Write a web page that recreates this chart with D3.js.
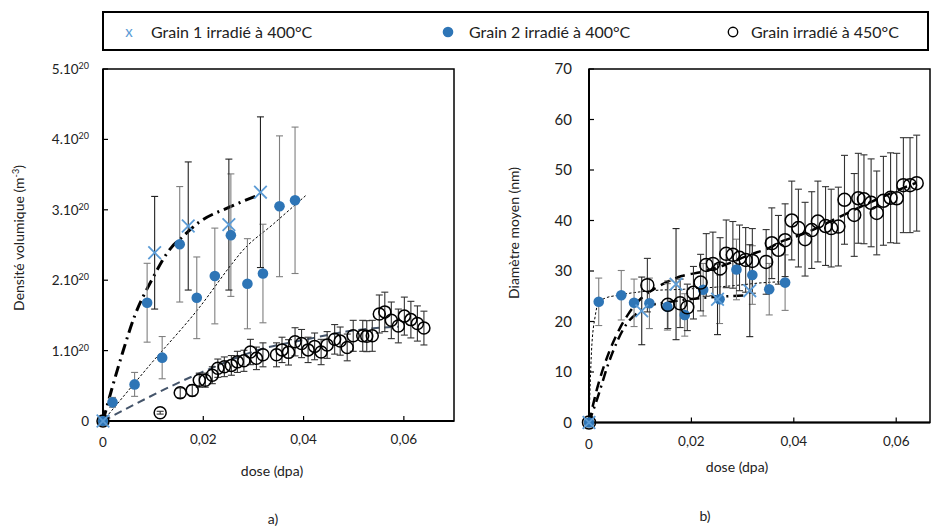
<!DOCTYPE html>
<html><head><meta charset="utf-8">
<script src="https://cdn.jsdelivr.net/npm/d3@7"></script>
<style>body{margin:0;background:#fff}svg{font-family:Lato,"Open Sans",sans-serif}</style>
</head><body>
<svg id="c" width="931" height="527"></svg>
<script>
// ---------- DATA ----------
const xTicks = [0, 0.02, 0.04, 0.06];
const xTickLabels = ["0", "0,02", "0,04", "0,06"];
const densTicks = [0, 1, 2, 3, 4, 5];            // x 1e20 m^-3
const diamTicks = [0, 10, 20, 30, 40, 50, 60, 70];
const legendLabels = ["Grain 1 irradié à 400°C", "Grain 2 irradié à 400°C", "Grain irradié à 450°C"];

// Grain 1 (x markers)
const doseG1 = [0, 0.0103, 0.0170, 0.0251, 0.0314];
const densG1 = [0, 2.39, 2.77, 2.79, 3.25];
const densG1Err = [0, 0.80, 0.91, 0.93, 1.07];
const diamG1 = [0, 22.1, 27.4, 24.4, 26.1];
const diamG1Err = [0, 6.7, 11.0, 7.0, 9.1];

// Grain 2 (filled dots)
const doseG2 = [0, 0.0019, 0.0063, 0.0088, 0.0118, 0.0153, 0.0187, 0.0223, 0.0255, 0.0288, 0.0319, 0.0352, 0.0383];
const densG2 = [0, 0.265, 0.52, 1.68, 0.90, 2.51, 1.75, 2.06, 2.64, 1.95, 2.095, 3.05, 3.135];
const densG2Err = [0, 0.07, 0.17, 0.56, 0.30, 0.82, 0.58, 0.68, 0.87, 0.64, 0.70, 1.00, 1.04];
const diamG2 = [0, 23.9, 25.2, 23.7, 23.6, 22.9, 21.3, 26.3, 24.4, 30.3, 29.2, 26.4, 27.7];
const diamG2Err = [0, 4.7, 4.9, 4.7, 5.0, 4.6, 4.2, 5.2, 4.8, 6.0, 5.8, 5.1, 5.5];

// Grain irradiated at 450°C (open circles)
const dose450 = [0, 0.0114, 0.0154, 0.0178, 0.0192, 0.0204, 0.0218, 0.0229, 0.0242, 0.0256, 0.0268, 0.0281, 0.0294, 0.0306, 0.0319, 0.0346, 0.0357, 0.0370, 0.0383, 0.0396, 0.0409, 0.0422, 0.0435, 0.0447, 0.0462, 0.0473, 0.0487, 0.0499, 0.0518, 0.0526, 0.0537, 0.0551, 0.0562, 0.0575, 0.0589, 0.0601, 0.0614, 0.0627, 0.0640];
const dens450 = [0, 0.118, 0.40, 0.435, 0.58, 0.58, 0.65, 0.75, 0.77, 0.79, 0.84, 0.855, 0.98, 0.89, 0.94, 0.94, 1.01, 0.975, 1.125, 1.10, 1.01, 1.06, 0.98, 1.08, 1.16, 1.135, 1.045, 1.21, 1.21, 1.205, 1.21, 1.52, 1.55, 1.43, 1.35, 1.49, 1.44, 1.385, 1.32];
const dens450Err = [0, 0.02, 0.07, 0.08, 0.1, 0.1, 0.12, 0.13, 0.14, 0.14, 0.15, 0.15, 0.18, 0.16, 0.17, 0.17, 0.18, 0.18, 0.2, 0.2, 0.18, 0.19, 0.18, 0.19, 0.21, 0.2, 0.19, 0.22, 0.22, 0.22, 0.22, 0.27, 0.28, 0.26, 0.24, 0.27, 0.26, 0.25, 0.24];
const diam450 = [0, 27.2, 23.3, 23.6, 22.8, 25.7, 27.7, 31.2, 31.4, 30.5, 33.4, 33.2, 32.6, 32.2, 32.0, 31.8, 35.5, 34.2, 36.1, 40.0, 38.5, 36.3, 38.1, 39.8, 38.9, 38.5, 38.8, 44.1, 41.1, 44.4, 44.2, 43.5, 41.5, 43.9, 44.5, 44.4, 47.0, 47.0, 47.4];
const diam450Err = [0, 5.3, 4.7, 4.8, 4.6, 5.2, 5.6, 6.2, 6.3, 6.1, 6.7, 6.6, 6.5, 6.4, 6.4, 6.4, 7.0, 6.8, 7.2, 7.8, 7.7, 7.3, 7.6, 8.0, 7.8, 7.7, 7.8, 8.8, 8.2, 8.9, 8.8, 8.7, 8.3, 8.8, 8.9, 8.9, 9.4, 9.4, 9.5];

// Trend lines
const fitDensG1Dose = [0, 0.0017, 0.0039, 0.0063, 0.0097, 0.0137, 0.0153, 0.0193, 0.0253, 0.0314];
const fitDensG1Val  = [0, 0.44, 0.97, 1.49, 2.0, 2.47, 2.58, 2.83, 3.04, 3.22];
const fitDensG2Dose = [0, 0.0094, 0.0193, 0.0259, 0.0276, 0.034, 0.0404];
const fitDensG2Val  = [0, 0.8, 1.62, 2.25, 2.4, 2.8, 3.2];
const fitDens450Dose = [0, 0.0193, 0.032, 0.04, 0.0485, 0.0545, 0.059];
const fitDens450Val  = [0, 0.68, 1.03, 1.15, 1.27, 1.32, 1.34];
const fitDiamG1Dose = [0, 0.0017, 0.0038, 0.0074, 0.0096, 0.0113, 0.014, 0.018, 0.0226, 0.027, 0.031];
const fitDiamG1Val  = [0, 5, 11.7, 19.6, 21.8, 23.0, 23.6, 24.2, 24.7, 25, 25.2];
const fitDiamG2Dose = [0, 0.0005, 0.0012, 0.0018, 0.0031, 0.0057, 0.0122, 0.0187, 0.0293, 0.033, 0.0382];
const fitDiamG2Val  = [0, 14.3, 21, 23.6, 24.6, 25.2, 26.1, 26.4, 27.2, 27.6, 27.9];
const fitDiam450Dose = [0, 0.0015, 0.0041, 0.006, 0.0077, 0.0096, 0.0125, 0.0148, 0.0181, 0.022, 0.026, 0.0314, 0.035, 0.038, 0.0415, 0.0483, 0.0545, 0.0613, 0.064];
const fitDiam450Val  = [0, 6.4, 14.4, 18.6, 21.5, 24, 26.3, 27.6, 29, 29.8, 31, 33.2, 34.5, 36, 37.2, 40.4, 43.4, 46.4, 47.5];

// ---------- DRAW ----------
const BLUE = "#2E75B6", LBLUE = "#5B9BD5";
const svg = d3.select("#c");

function zip(a, b, e) { return a.map((d, i) => ({x: d, y: b[i], e: e ? e[i] : 0})); }

function panel(o) {
  const x = d3.scaleLinear().domain(o.xDom).range(o.xRange);
  const y = d3.scaleLinear().domain(o.yDom).range(o.yRange);
  const g = svg.append("g");
  const [x0, x1] = o.xRange, [y0, y1] = o.yRange;

  // frame
  g.append("rect").attr("x", x0).attr("y", y1).attr("width", x1 - x0).attr("height", y0 - y1)
    .attr("fill", "none").attr("stroke", "#000").attr("stroke-width", 1.5);
  g.append("line").attr("x1", x0).attr("x2", x0).attr("y1", y1).attr("y2", y0).attr("stroke", "#000").attr("stroke-width", 2);
  g.append("line").attr("x1", x0).attr("x2", x1).attr("y1", y0).attr("y2", y0).attr("stroke", "#000").attr("stroke-width", 1.8);

  // y ticks (inside)
  g.selectAll(".yt").data(o.yTicks).enter().append("line")
    .attr("x1", x0).attr("x2", x0 + 5).attr("y1", d => y(d)).attr("y2", d => y(d)).attr("stroke", "#000").attr("stroke-width", 1.2);
  const yl = g.selectAll(".yl").data(o.yTicks).enter().append("text")
    .attr("x", o.yLabelX).attr("y", d => y(d) + 5).attr("text-anchor", "end")
    .attr("font-size", o.yFont).attr("fill", "#222");
  yl.each(function(d) { o.yLabel(d3.select(this), d); });

  // x ticks (inside)
  g.selectAll(".xt").data(xTicks).enter().append("line")
    .attr("x1", d => x(d)).attr("x2", d => x(d)).attr("y1", y0).attr("y2", y0 - 5).attr("stroke", "#000").attr("stroke-width", 1.2);
  g.selectAll(".xl").data(xTicks).enter().append("text")
    .attr("x", d => x(d)).attr("y", (d, i) => y0 + (i === 0 ? 26 : 23)).attr("text-anchor", "middle")
    .attr("font-size", 13.5).attr("fill", "#222").text((d, i) => xTickLabels[i]);

  // axis titles
  g.append("text").attr("x", o.xTitle[0]).attr("y", o.xTitle[1]).attr("text-anchor", "middle")
    .attr("font-size", 14).attr("fill", "#222").text("dose (dpa)");
  const yt = g.append("text").attr("transform", `translate(${o.yTitle[0]},${o.yTitle[1]}) rotate(-90)`)
    .attr("text-anchor", "middle").attr("font-size", 14).attr("fill", "#222");
  o.yTitleFn(yt);
  g.append("text").attr("x", o.panelLab[0]).attr("y", o.panelLab[1]).attr("text-anchor", "middle")
    .attr("font-size", 14).attr("fill", "#222").text(o.panelLab[2]);

  const line = d3.line().x(d => x(d.x)).y(d => y(d.y)).curve(d3.curveMonotoneX);
  // trend lines
  o.fits.forEach(f => {
    g.append("path").attr("d", line(zip(f.dose, f.val))).attr("fill", "none")
      .attr("stroke", f.color).attr("stroke-width", f.w).attr("stroke-dasharray", f.dash);
  });

  // error bars
  function errBars(data, color) {
    const eg = g.append("g").attr("stroke", color).attr("stroke-width", 1.1);
    data.filter(d => d.e > 0).forEach(d => {
      const cx = x(d.x), ya = y(d.y + d.e), yb = y(d.y - d.e);
      eg.append("line").attr("x1", cx).attr("x2", cx).attr("y1", ya).attr("y2", yb);
      eg.append("line").attr("x1", cx - 3.5).attr("x2", cx + 3.5).attr("y1", ya).attr("y2", ya);
      eg.append("line").attr("x1", cx - 3.5).attr("x2", cx + 3.5).attr("y1", yb).attr("y2", yb);
    });
  }
  errBars(o.g2, "#7f7f7f");
  errBars(o.c450, "#333");
  errBars(o.g1, "#222");

  // markers
  g.selectAll(".dot").data(o.g2).enter().append("circle")
    .attr("cx", d => x(d.x)).attr("cy", d => y(d.y)).attr("r", 5.3).attr("fill", BLUE);
  g.selectAll(".oc").data(o.c450).enter().append("circle")
    .attr("cx", d => x(d.x)).attr("cy", d => y(d.y)).attr("r", o.cr).attr("fill", "none")
    .attr("stroke", "#000").attr("stroke-width", 1.5);
  g.selectAll(".xm").data(o.g1).enter().append("path")
    .attr("d", d => { const cx = x(d.x), cy = y(d.y), s = 6.3; return `M${cx-s},${cy-s}L${cx+s},${cy+s}M${cx-s},${cy+s}L${cx+s},${cy-s}`; })
    .attr("stroke", LBLUE).attr("stroke-width", 1.8).attr("fill", "none");
}

function powLabel(sel, d) {
  if (d === 0) { sel.text("0"); return; }
  sel.append("tspan").text(d + ".10");
  sel.append("tspan").attr("font-size", 9).attr("dy", -5).text("20");
}

panel({
  xDom: [0, 0.07], xRange: [103, 454], yDom: [0, 5], yRange: [421, 69],
  yTicks: densTicks, yLabelX: 89, yFont: 13.5, yLabel: powLabel,
  xTitle: [272, 476], yTitle: [24, 238], panelLab: [273, 524, "a)"],
  yTitleFn: t => { t.append("tspan").text("Densité volumique (m"); t.append("tspan").attr("font-size", 9).attr("dy", -5).text("-3"); t.append("tspan").attr("dy", 5).text(")"); },
  cr: 6,
  fits: [
    {dose: fitDens450Dose, val: fitDens450Val, color: "#44546A", w: 2, dash: "8,5"},
    {dose: fitDensG2Dose, val: fitDensG2Val, color: "#000", w: 1, dash: "2.5,2"},
    {dose: fitDensG1Dose, val: fitDensG1Val, color: "#000", w: 3, dash: "11,5,2,5"}
  ],
  g1: zip(doseG1, densG1, densG1Err), g2: zip(doseG2, densG2, densG2Err), c450: zip(dose450, dens450, dens450Err)
});

panel({
  xDom: [0, 0.0666], xRange: [589, 930], yDom: [0, 70], yRange: [422.5, 69],
  yTicks: diamTicks, yLabelX: 572, yFont: 15, yLabel: (s, d) => s.text(d),
  xTitle: [737, 472], yTitle: [519, 233], panelLab: [705, 521, "b)"],
  yTitleFn: t => t.text("Diamètre moyen (nm)"),
  cr: 6.5,
  fits: [
    {dose: fitDiamG2Dose, val: fitDiamG2Val, color: "#000", w: 1, dash: "2.5,2"},
    {dose: fitDiam450Dose, val: fitDiam450Val, color: "#000", w: 2.5, dash: "10,6"},
    {dose: fitDiamG1Dose, val: fitDiamG1Val, color: "#000", w: 2.5, dash: "10,5,2,5"}
  ],
  g1: zip(doseG1, diamG1, diamG1Err), g2: zip(doseG2, diamG2, diamG2Err), c450: zip(dose450, diam450, diam450Err)
});

// ---------- LEGEND ----------
const lg = svg.append("g");
lg.append("rect").attr("x", 103).attr("y", 12).attr("width", 825).attr("height", 38)
  .attr("fill", "#fff").attr("stroke", "#000").attr("stroke-width", 2);
lg.append("text").attr("x", 129).attr("y", 37).attr("text-anchor", "middle").attr("font-size", 15).attr("fill", LBLUE).text("x");
lg.append("circle").attr("cx", 448).attr("cy", 32).attr("r", 5.3).attr("fill", BLUE);
lg.append("circle").attr("cx", 733).attr("cy", 32).attr("r", 4.7).attr("fill", "none").attr("stroke", "#000").attr("stroke-width", 1.4);
const legX = [151, 469, 751];
lg.selectAll(".lt").data(legendLabels).enter().append("text")
  .attr("x", (d, i) => legX[i]).attr("y", 37.5).attr("font-size", 16).attr("fill", "#222").text(d => d);
</script>
</body></html>
